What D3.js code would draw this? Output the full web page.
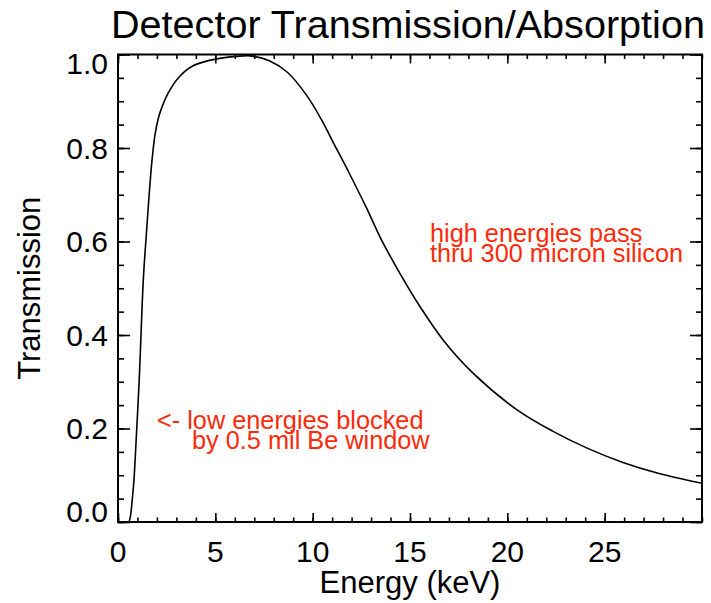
<!DOCTYPE html>
<html>
<head>
<meta charset="utf-8">
<script src="https://cdn.jsdelivr.net/npm/d3@7"></script>
<style>
  html, body { margin: 0; padding: 0; background: #fff; }
  svg { display: block; }
  text { font-family: "Liberation Sans", Arial, Helvetica, sans-serif; }
</style>
</head>
<body>
<svg id="chart" width="711" height="603"></svg>
<script>
// Photon energy (keV) and fraction transmitted through Be window + Si detector
const energyKeV = [0.50, 0.55, 0.62, 0.68, 0.75, 0.82, 0.96, 1.09, 1.30, 1.45, 1.60, 1.75, 1.90, 2.05, 2.20, 2.57, 3.14, 3.86, 5.00, 6.10, 6.80, 7.80, 8.70, 9.70, 10.50, 10.98, 11.88, 12.74, 13.54, 14.48, 15.51, 16.71, 18.25, 20.50, 22.30, 24.10, 25.90, 27.70, 30.00];
const transmission = [0.000, 0.000, 0.008, 0.026, 0.055, 0.090, 0.197, 0.304, 0.518, 0.612, 0.700, 0.775, 0.828, 0.860, 0.881, 0.917, 0.952, 0.976, 0.990, 0.996, 0.997, 0.986, 0.962, 0.912, 0.857, 0.818, 0.746, 0.674, 0.603, 0.532, 0.461, 0.389, 0.318, 0.240, 0.195, 0.158, 0.128, 0.105, 0.083];

const xMajorTicks = [0, 5, 10, 15, 20, 25];
const yMajorTicks = [0.0, 0.2, 0.4, 0.6, 0.8, 1.0];

const titleText = "Detector Transmission/Absorption";
const xTitle = "Energy (keV)";
const yTitle = "Transmission";
const noteLow = ["<- low energies blocked", "by 0.5 mil Be window"];
const noteHigh = ["high energies pass", "thru 300 micron silicon"];

const svg = d3.select("#chart");
const plotL = 118, plotR = 702, plotT = 54.5, plotB = 522;

const x = d3.scaleLinear().domain([0, 30]).range([plotL, plotR]);
const y = d3.scaleLinear().domain([0, 1]).range([plotB, plotT]);

const red = "#ff2a0a";

// Curve, clipped to the frame
svg.append("clipPath").attr("id", "plotclip")
  .append("rect").attr("x", plotL).attr("y", plotT)
  .attr("width", plotR - plotL).attr("height", plotB - plotT);

const pts = energyKeV.map((e, i) => [e, transmission[i]]);
svg.append("path")
  .datum(pts)
  .attr("clip-path", "url(#plotclip)")
  .attr("fill", "none")
  .attr("stroke", "#000")
  .attr("stroke-width", 1.6)
  .attr("d", d3.line().x(d => x(d[0])).y(d => y(d[1])).curve(d3.curveCatmullRom.alpha(0.5)));

// Tick marks on all four sides (inward)
const xMinor = d3.range(0, 31, 1);
const yMinor = d3.range(0, 1.0001, 0.05);

function ticks(axisFn, scale, values, size, tx, ty) {
  const g = svg.append("g").attr("transform", `translate(${tx},${ty})`)
    .call(axisFn(scale).tickValues(values).tickSize(size).tickFormat(""));
  g.select(".domain").remove();
  g.selectAll("line").attr("stroke", "#000").attr("stroke-width", 1.6);
}

ticks(d3.axisTop, x, xMinor, 4.5, 0, plotB);
ticks(d3.axisTop, x, xMajorTicks, 9, 0, plotB);
ticks(d3.axisBottom, x, xMinor, 4.5, 0, plotT);
ticks(d3.axisBottom, x, xMajorTicks, 9, 0, plotT);
ticks(d3.axisRight, y, yMinor, 6, plotL, 0);
ticks(d3.axisRight, y, yMajorTicks, 12, plotL, 0);
ticks(d3.axisLeft, y, yMinor, 6, plotR, 0);
ticks(d3.axisLeft, y, yMajorTicks, 12, plotR, 0);

// Tick labels
svg.append("g").selectAll("text").data(xMajorTicks).join("text")
  .attr("x", d => x(d)).attr("y", plotB + 40)
  .attr("text-anchor", "middle").attr("font-size", 30).attr("fill", "#000")
  .text(d => d3.format("d")(d));

svg.append("g").selectAll("text").data(yMajorTicks).join("text")
  .attr("x", plotL - 10)
  .attr("y", d => y(d) + (d === 1 ? 19.5 : d === 0 ? 0 : 10.5))
  .attr("text-anchor", "end").attr("font-size", 30).attr("fill", "#000")
  .text(d => d3.format(".1f")(d));

// Frame
svg.append("rect")
  .attr("x", plotL).attr("y", plotT)
  .attr("width", plotR - plotL).attr("height", plotB - plotT)
  .attr("fill", "none").attr("stroke", "#000").attr("stroke-width", 2);

// Titles
svg.append("text").attr("x", 111).attr("y", 38)
  .attr("font-size", 39.6).attr("fill", "#000").text(titleText);

svg.append("text").attr("x", (plotL + plotR) / 2).attr("y", 593)
  .attr("text-anchor", "middle").attr("font-size", 31).attr("fill", "#000").text(xTitle);

svg.append("text")
  .attr("transform", `translate(40,${(plotT + plotB) / 2}) rotate(-90)`)
  .attr("text-anchor", "middle").attr("font-size", 31).attr("fill", "#000").text(yTitle);

// Annotations
svg.append("text").attr("x", 157).attr("y", 428.5).attr("font-size", 25.3).attr("fill", red).text(noteLow[0]);
svg.append("text").attr("x", 192).attr("y", 448.5).attr("font-size", 25.3).attr("fill", red).text(noteLow[1]);
svg.append("text").attr("x", 430).attr("y", 242).attr("font-size", 25.3).attr("fill", red).text(noteHigh[0]);
svg.append("text").attr("x", 430).attr("y", 262).attr("font-size", 25.3).attr("fill", red).text(noteHigh[1]);
</script>
</body>
</html>
